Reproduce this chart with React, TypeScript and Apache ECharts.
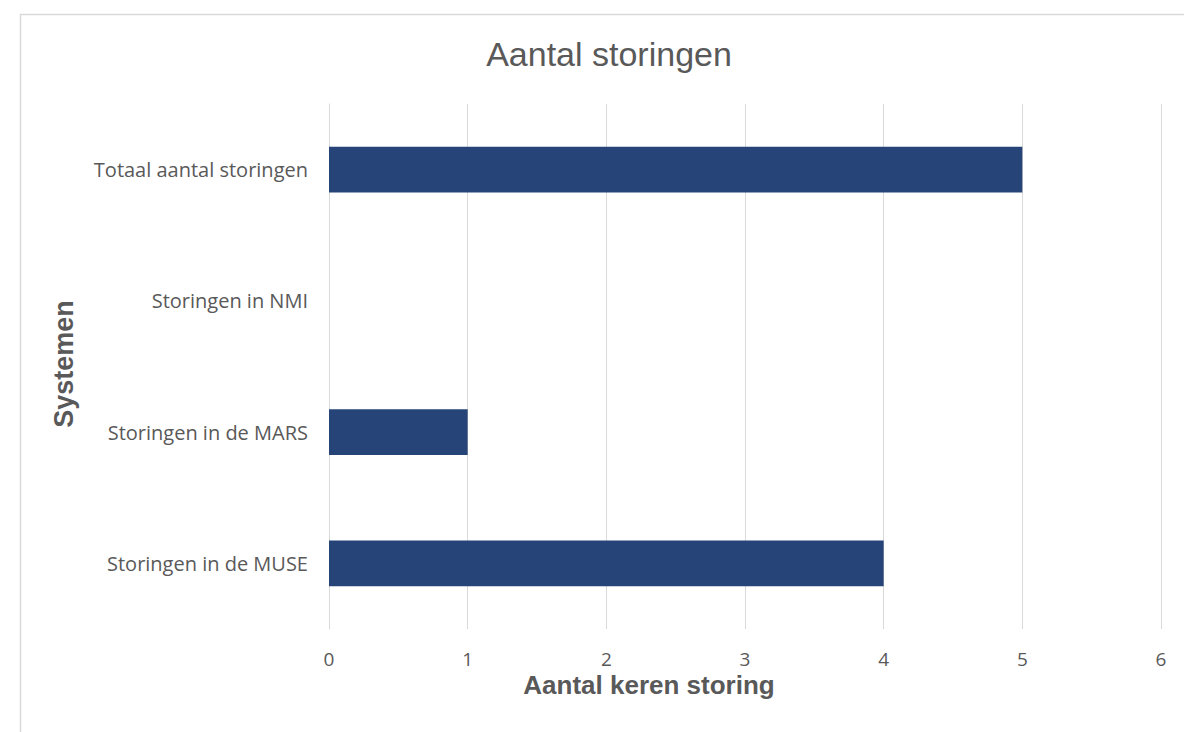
import React, { useEffect, useRef } from "react";
import * as echarts from "echarts";

const categories = [
  "Storingen in de MUSE",
  "Storingen in de MARS",
  "Storingen in NMI",
  "Totaal aantal storingen",
];
const counts = [4, 1, 0, 5];
const xTicks = { min: 0, max: 6, interval: 1 };

const chartTitle = "Aantal storingen";
const xTitle = "Aantal keren storing";
const yTitle = "Systemen";

export default function App() {
  const ref = useRef<HTMLDivElement>(null);

  useEffect(() => {
    if (!ref.current) return;
    const chart = echarts.init(ref.current, null, { renderer: "svg" });
    const textGrey = "#595959";
    chart.setOption({
      animation: false,
      backgroundColor: "#ffffff",
      graphic: [
        {
          type: "rect",
          shape: { x: 20.5, y: 14.5, width: 1200, height: 760 },
          style: { fill: "none", stroke: "#d9d9d9", lineWidth: 1.5 },
          silent: true,
        },
        {
          type: "text",
          x: 609,
          y: 54,
          style: {
            text: chartTitle,
            fontFamily: "Liberation Sans",
            fontSize: 34,
            fill: textGrey,
            align: "center",
            verticalAlign: "middle",
          },
        },
        {
          type: "text",
          x: 649,
          y: 685,
          style: {
            text: xTitle,
            fontFamily: "Liberation Sans",
            fontSize: 26,
            fontWeight: "bold",
            fill: textGrey,
            align: "center",
            verticalAlign: "middle",
          },
        },
        {
          type: "text",
          x: 64,
          y: 364,
          rotation: Math.PI / 2,
          style: {
            text: yTitle,
            fontFamily: "Liberation Sans",
            fontSize: 27,
            fontWeight: "bold",
            fill: textGrey,
            align: "center",
            verticalAlign: "middle",
          },
        },
      ],
      grid: { left: 329, right: 23, top: 104, bottom: 103, containLabel: false },
      xAxis: {
        type: "value",
        min: xTicks.min,
        max: xTicks.max,
        interval: xTicks.interval,
        axisLine: { show: false },
        axisTick: { show: false },
        splitLine: { show: true, lineStyle: { color: "#d9d9d9", width: 1 } },
        axisLabel: {
          fontFamily: "Open Sans",
          fontSize: 19,
          lineHeight: 19,
          color: textGrey,
          margin: 20,
        },
      },
      yAxis: {
        type: "category",
        data: categories,
        axisLine: { show: true, lineStyle: { color: "#d9d9d9", width: 1 } },
        axisTick: { show: false },
        axisLabel: {
          fontFamily: "Open Sans",
          fontSize: 20,
          color: textGrey,
          margin: 21,
        },
      },
      series: [
        {
          type: "bar",
          data: counts,
          barWidth: "35%",
          itemStyle: { color: "#264478" },
        },
      ],
    });
    return () => chart.dispose();
  }, []);

  return (
    <div
      ref={ref}
      style={{ position: "fixed", left: 0, top: 0, width: 1184, height: 732 }}
    />
  );
}
